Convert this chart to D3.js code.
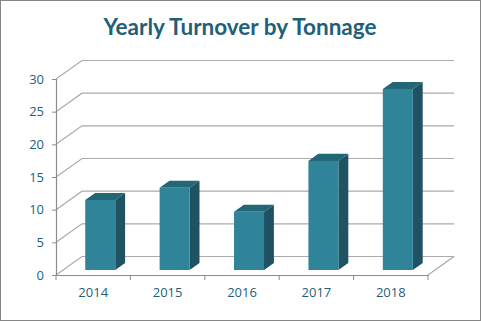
<!DOCTYPE html>
<html>
<head>
<meta charset="utf-8">
<script src="https://cdn.jsdelivr.net/npm/d3@7"></script>
<style>
  html, body { margin: 0; padding: 0; background: #fff; }
  svg { display: block; }
</style>
</head>
<body>
<svg id="chart" width="481" height="321"></svg>
<script>
const title = "Yearly Turnover by Tonnage";
const categories = ["2014", "2015", "2016", "2017", "2018"];
const values = [10.7, 12.6, 8.9, 16.7, 27.7];
const yTicks = [0, 5, 10, 15, 20, 25, 30];

const W = 481, H = 321;
const svg = d3.select("#chart");
const textColor = "#1F5F7A";
const gridColor = "#ABABAB";
const axisColor = "#8C8C8C";

// frame
svg.append("rect").attr("x", 0.5).attr("y", 0.5).attr("width", W - 1).attr("height", H - 1)
  .attr("fill", "#fff").attr("stroke", "#868686").attr("stroke-width", 1);

// title
svg.append("text").attr("x", 240).attr("y", 35).attr("text-anchor", "middle")
  .attr("font-family", "Lato, 'Open Sans', sans-serif").attr("font-weight", "bold")
  .attr("font-size", 22.5).attr("fill", "#1F6079").text(title);

// 3D geometry: front plane + oblique depth offset
const left = 56, right = 428;
const DX = 26, DY = -18.5;
const x = d3.scaleBand().domain(categories).range([left, right]).paddingInner(0).paddingOuter(0);
const y = d3.scaleLinear().domain([0, 30]).range([275, 79]);
const barW = 30;
const d0 = 0.27, d1 = 0.65; // depth fractions of bar

const g = svg.append("g");

// gridlines (side wall diagonal + back wall horizontal)
g.selectAll("path.grid").data(yTicks).join("path").attr("class", "grid")
  .attr("d", v => `M${left},${y(v)}L${left + DX},${y(v) + DY}L${right + DX},${y(v) + DY}`)
  .attr("fill", "none").attr("stroke", gridColor).attr("stroke-width", 1.2);

// floor right edge
g.append("path").attr("d", `M${right},${y(0)}L${right + DX},${y(0) + DY}`)
  .attr("fill", "none").attr("stroke", gridColor).attr("stroke-width", 1.2);

// bars
const P = (px, v, d) => [px + d * DX, y(v) + d * DY];
const bars = g.selectAll("g.bar").data(categories.map((c, i) => ({ c, v: values[i] }))).join("g").attr("class", "bar");
bars.each(function (d) {
  const sel = d3.select(this);
  const cx = x(d.c) + x.bandwidth() / 2;
  const xl = cx - barW / 2, xr = cx + barW / 2;
  const f = [P(xl, 0, d0), P(xr, 0, d0), P(xr, d.v, d0), P(xl, d.v, d0)];
  const top = [P(xl, d.v, d0), P(xr, d.v, d0), P(xr, d.v, d1), P(xl, d.v, d1)];
  const side = [P(xr, 0, d0), P(xr, 0, d1), P(xr, d.v, d1), P(xr, d.v, d0)];
  const poly = pts => "M" + pts.map(p => p.join(",")).join("L") + "Z";
  sel.append("path").attr("d", poly(side)).attr("fill", "#1F5262");
  sel.append("path").attr("d", poly(top)).attr("fill", "#236676");
  sel.append("path").attr("d", poly(f)).attr("fill", "#2F8499");
});

// left axis
const yAxis = d3.axisLeft(y).tickValues(yTicks).tickSize(4).tickPadding(8);
const ya = svg.append("g").attr("transform", `translate(${left},0)`).call(yAxis);
ya.select(".domain").attr("stroke", axisColor).attr("stroke-width", 1.2);
ya.selectAll(".tick line").attr("stroke", axisColor);
ya.selectAll(".tick text").attr("fill", textColor).attr("font-size", 13)
  .attr("font-family", "'Open Sans', Lato, sans-serif");

// bottom axis
const xAxis = d3.axisBottom(x).tickSize(0).tickPadding(13);
const xa = svg.append("g").attr("transform", `translate(0,${y(0)})`).call(xAxis);
xa.select(".domain").attr("stroke", axisColor).attr("stroke-width", 1.2);
xa.selectAll(".tick text").attr("fill", textColor).attr("font-size", 13)
  .attr("font-family", "'Open Sans', Lato, sans-serif");
// boundary ticks
const bounds = categories.map(c => x(c)).concat([right]);
xa.selectAll("line.bt").data(bounds).join("line").attr("class", "bt")
  .attr("x1", d => d).attr("x2", d => d).attr("y1", 0).attr("y2", 5)
  .attr("stroke", axisColor);
</script>
</body>
</html>
